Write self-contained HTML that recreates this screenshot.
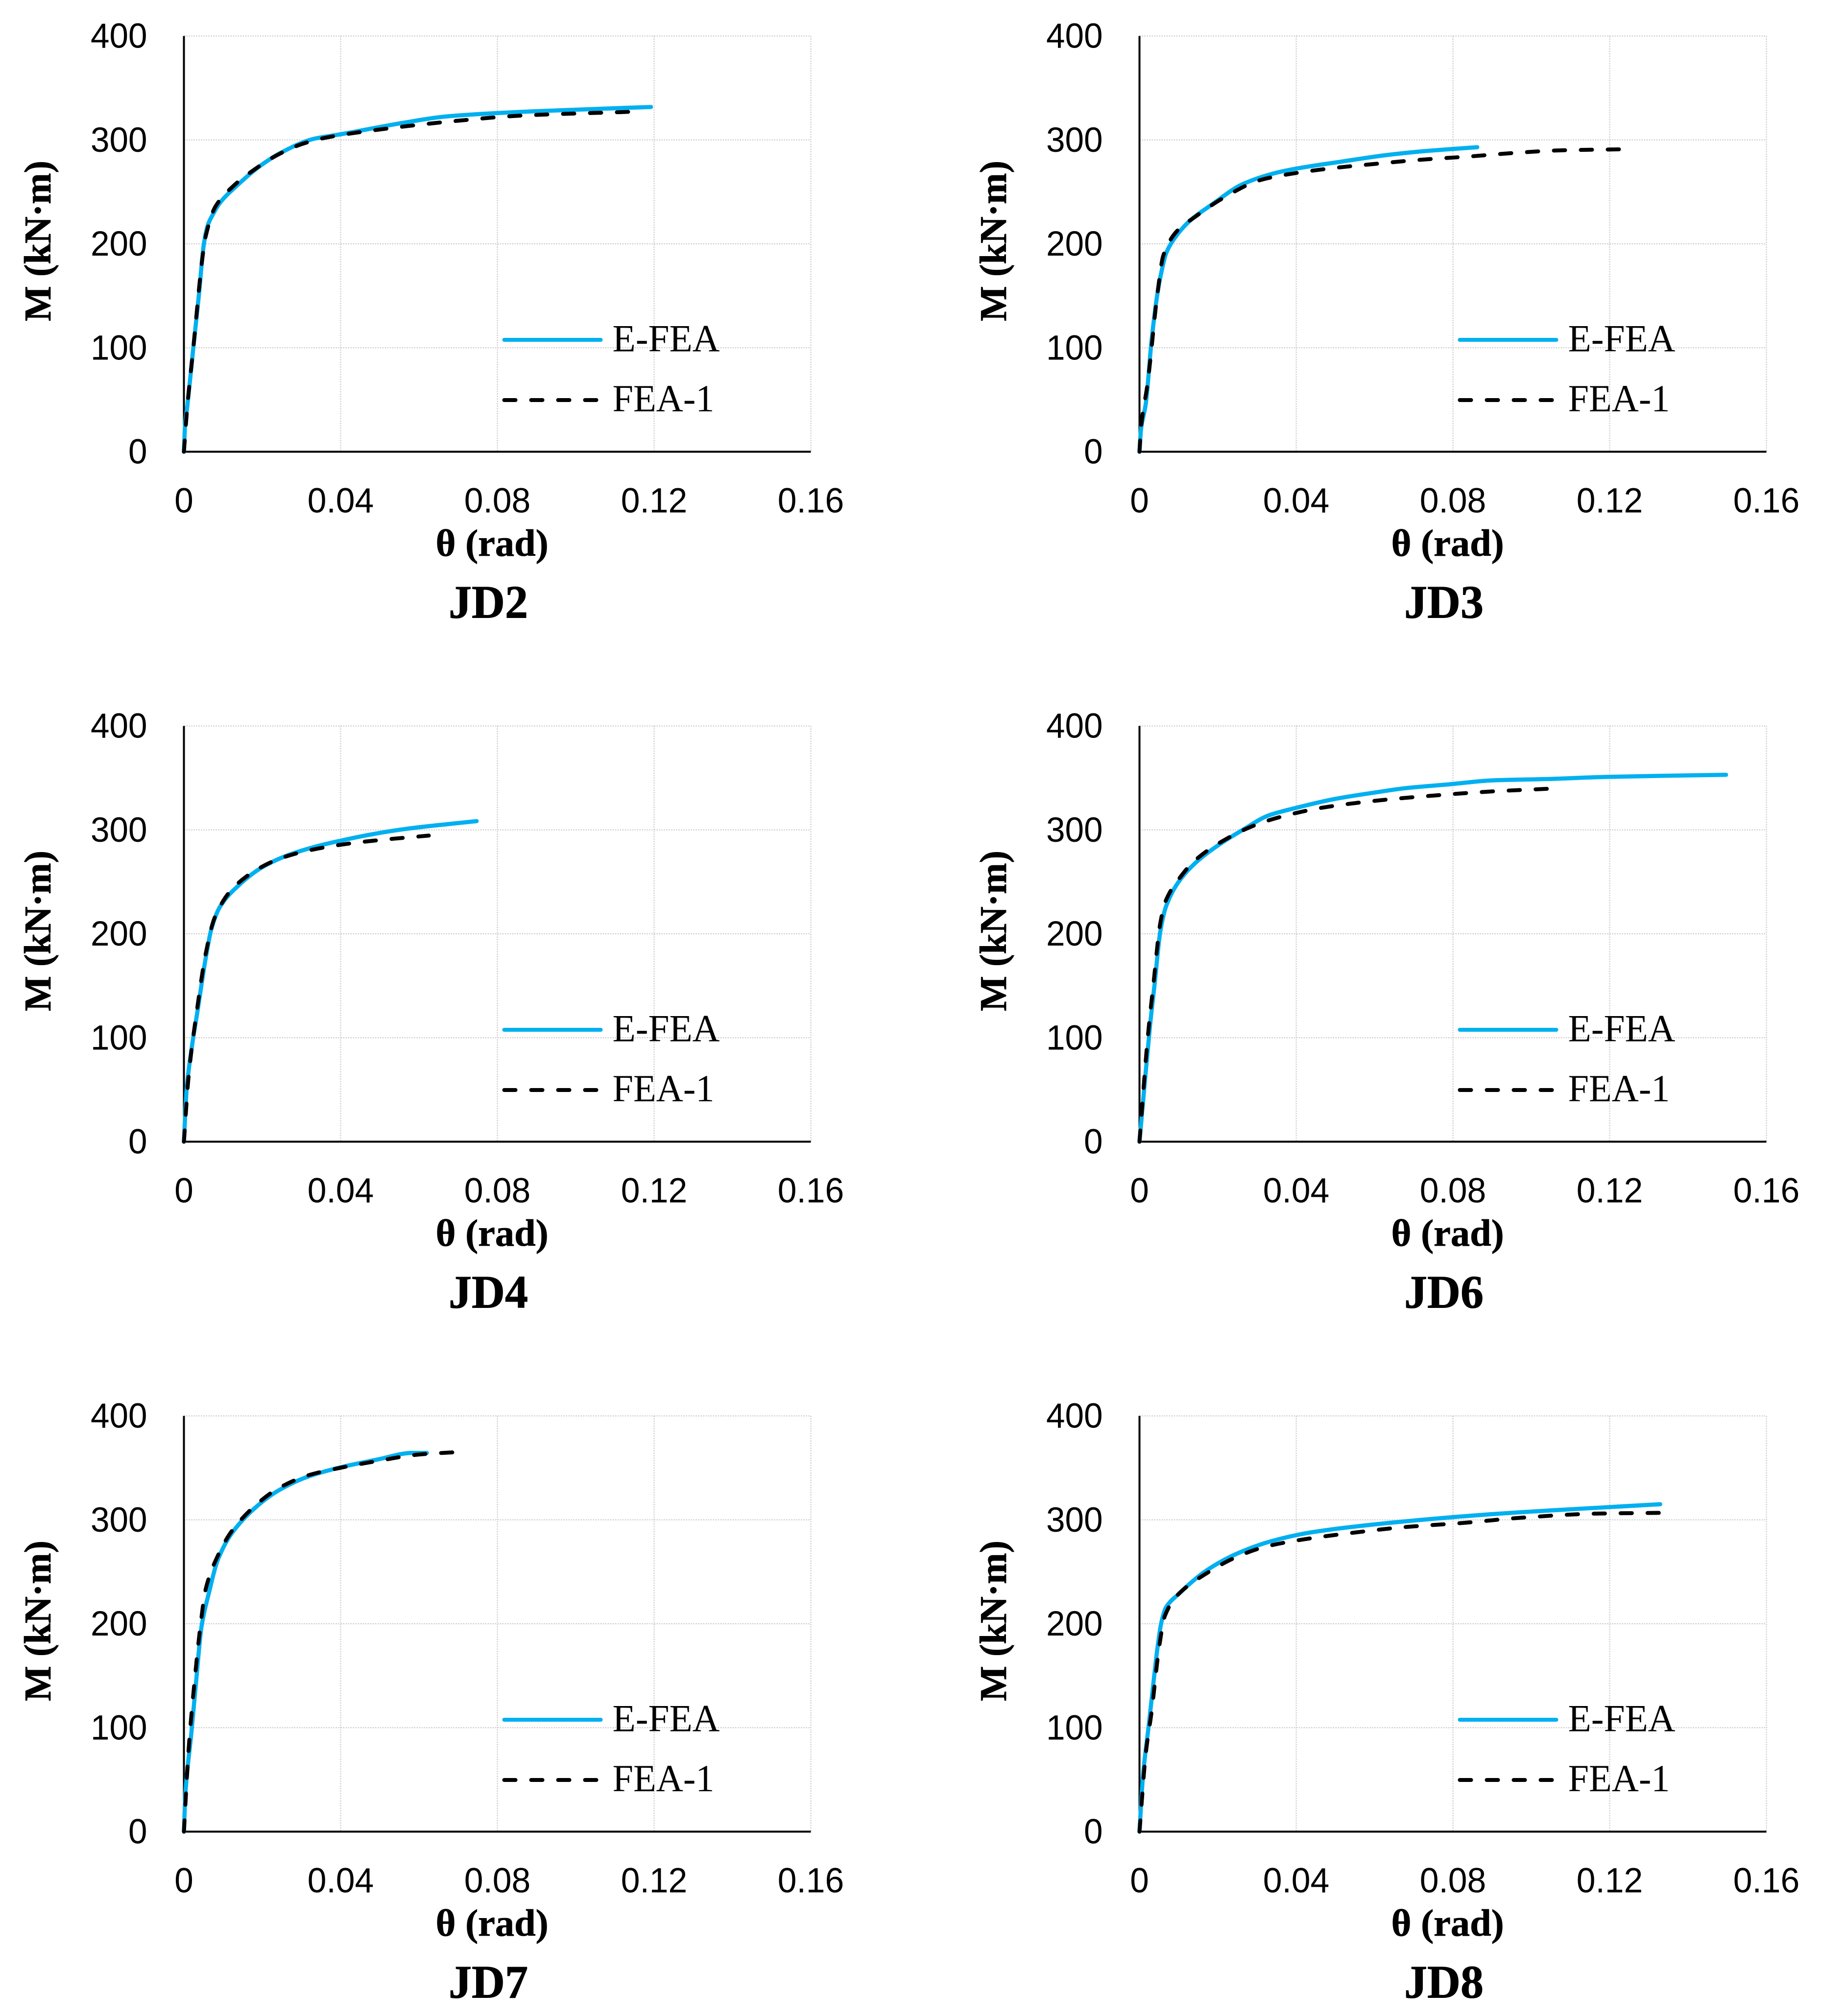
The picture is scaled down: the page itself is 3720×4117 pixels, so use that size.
<!DOCTYPE html>
<html lang="en">
<head>
<meta charset="utf-8">
<title>Moment-rotation curves JD2 to JD8</title>
<style>
html,body{margin:0;padding:0;background:#fff;}
svg{display:block;}
</style>
</head>
<body>
<svg id="figure" xmlns="http://www.w3.org/2000/svg" width="3720" height="4117" viewBox="0 0 3720 4117">
<rect width="3720" height="4117" fill="#ffffff"></rect>
</svg>
<script>
const xTickValues = [0, 0.04, 0.08, 0.12, 0.16];
const xTickLabels = ['0', '0.04', '0.08', '0.12', '0.16'];
const yTickValues = [0, 100, 200, 300, 400];
const yTickLabels = ['0', '100', '200', '300', '400'];
const seriesNames = ['E-FEA', 'FEA-1'];
const panelNames = ['JD2', 'JD3', 'JD4', 'JD6', 'JD7', 'JD8'];

const jd2EfeaTheta = [0, 0.0003, 0.0009, 0.0024, 0.0038, 0.0051, 0.0061, 0.0072, 0.0093, 0.0134, 0.0193, 0.0251, 0.0331, 0.0401, 0.0568, 0.0672, 0.0895, 0.1192];
const jd2EfeaMoment = [0, 26, 45, 100, 150, 200, 218, 227, 240, 255.6, 274.6, 288.4, 301, 305.5, 317, 322.7, 327.6, 331.7];
const jd2FeaTheta = [0, 0.0009, 0.0024, 0.0047, 0.0056, 0.008, 0.0126, 0.0178, 0.0236, 0.0301, 0.036, 0.0479, 0.0687, 0.0865, 0.1135];
const jd2FeaMoment = [0, 45, 100, 186, 208, 235.6, 255.6, 271, 285, 296, 302, 309, 318, 323.5, 327];

const jd3EfeaTheta = [0, 0.0004, 0.0016, 0.0031, 0.0046, 0.0056, 0.0068, 0.009, 0.0128, 0.0187, 0.0261, 0.0335, 0.0394, 0.0513, 0.0632, 0.072, 0.0862];
const jd3EfeaMoment = [0, 22, 46, 107.5, 152.6, 173, 191, 205.7, 222, 238.4, 257, 267, 272, 279, 285.5, 289, 293];
const jd3FeaTheta = [0, 0.0004, 0.0021, 0.0046, 0.0061, 0.0095, 0.0142, 0.0216, 0.0305, 0.038, 0.0483, 0.0602, 0.072, 0.0839, 0.0958, 0.1077, 0.1228];
const jd3FeaMoment = [0, 24, 66.7, 152.6, 189, 212, 226, 244.6, 261, 267, 272.4, 277, 281, 284, 287.5, 290, 291];

const jd4EfeaTheta = [0, 0.0007, 0.0022, 0.0034, 0.0056, 0.0071, 0.0093, 0.0138, 0.0197, 0.0257, 0.0331, 0.039, 0.0479, 0.0568, 0.0672, 0.0747];
const jd4EfeaMoment = [0, 50.7, 95.7, 124, 177.5, 206, 226.6, 246, 263.4, 274.4, 283.4, 288.8, 295.7, 301, 305.5, 308.4];
const jd4FeaTheta = [0, 0.0012, 0.0034, 0.0056, 0.0079, 0.0123, 0.0183, 0.0242, 0.0316, 0.0405, 0.0494, 0.0625];
const jd4FeaMoment = [0, 63, 128.4, 181.6, 216, 243, 261, 272, 280, 286, 290, 294.5];

const jd6EfeaTheta = [0, 0.0012, 0.0027, 0.0039, 0.0053, 0.0068, 0.0098, 0.0142, 0.0202, 0.0268, 0.0328, 0.0387, 0.0498, 0.0602, 0.0676, 0.0795, 0.0899, 0.1047, 0.1195, 0.1497];
const jd6EfeaMoment = [0, 50.7, 112, 153, 202, 226.6, 249, 268, 285.5, 301, 313.7, 320, 329.7, 336, 340, 344, 347.6, 349, 351, 353];
const jd6FeaTheta = [0, 0.0006, 0.0021, 0.0036, 0.0053, 0.0068, 0.0105, 0.0142, 0.0202, 0.0291, 0.0365, 0.0469, 0.0602, 0.075, 0.0899, 0.104];
const jd6FeaMoment = [0, 30, 99.8, 153, 210, 232.7, 255, 270.7, 287, 304, 313, 321.5, 328, 333, 337, 339.5];

const jd7EfeaTheta = [0, 0.0004, 0.0019, 0.0031, 0.0045, 0.0064, 0.0086, 0.0123, 0.0183, 0.0242, 0.0316, 0.0405, 0.0494, 0.0583, 0.062];
const jd7EfeaMoment = [0, 38, 95, 144, 197.5, 230, 261, 287.5, 312, 328.4, 341.5, 351, 358, 364.4, 364.4];
const jd7FeaTheta = [0, 0.0012, 0.0027, 0.0042, 0.0056, 0.0086, 0.0123, 0.0183, 0.0242, 0.0316, 0.0405, 0.0494, 0.0598, 0.069];
const jd7FeaMoment = [0, 79, 144, 197.5, 234, 265, 289.6, 314, 330.5, 342.7, 350.5, 356.6, 362.8, 365];

const jd8EfeaTheta = [0, 0.0009, 0.0024, 0.0036, 0.0046, 0.0056, 0.0068, 0.0098, 0.0172, 0.0246, 0.0335, 0.0439, 0.0602, 0.075, 0.0899, 0.1047, 0.1329];
const jd8EfeaMoment = [0, 54, 103.5, 144.4, 177, 201.6, 216, 228, 251.5, 267, 279.3, 288, 295.7, 301, 305.5, 309, 315];
const jd8FeaTheta = [0, 0.0016, 0.0031, 0.005, 0.0065, 0.0098, 0.0172, 0.0246, 0.032, 0.0409, 0.0543, 0.0676, 0.0825, 0.0973, 0.1166, 0.1329];
const jd8FeaMoment = [0, 74.8, 115.7, 177, 207.8, 228, 248.7, 264, 274, 280.6, 287.5, 293, 297, 302, 306, 306.7];

const efeaThetaSets = [jd2EfeaTheta, jd3EfeaTheta, jd4EfeaTheta, jd6EfeaTheta, jd7EfeaTheta, jd8EfeaTheta];
const efeaMomentSets = [jd2EfeaMoment, jd3EfeaMoment, jd4EfeaMoment, jd6EfeaMoment, jd7EfeaMoment, jd8EfeaMoment];
const feaThetaSets = [jd2FeaTheta, jd3FeaTheta, jd4FeaTheta, jd6FeaTheta, jd7FeaTheta, jd8FeaTheta];
const feaMomentSets = [jd2FeaMoment, jd3FeaMoment, jd4FeaMoment, jd6FeaMoment, jd7FeaMoment, jd8FeaMoment];

const SVG_NS = 'http://www.w3.org/2000/svg';
const figure = document.getElementById('figure');
const X_MAX = 0.16;
const Y_MAX = 400;
const PLOT_W = 1280;
const PLOT_H = 849;
const GRID = '#c6c6c6';
const SANS = '"Liberation Sans", sans-serif';
const SERIF = '"Liberation Serif", serif';

function make(tag, attrs, parent) {
  const el = document.createElementNS(SVG_NS, tag);
  for (const k in attrs) el.setAttribute(k, attrs[k]);
  parent.appendChild(el);
  return el;
}
function tickWidth(label) {
  let w = 0;
  for (const c of label) w += (c === '.' ? 20 : 38.5);
  return w;
}
function smoothPath(thetas, moments, sx, sy) {
  const xs = thetas.map(sx);
  const ys = moments.map(sy);
  const n = xs.length;
  const slopes = [];
  for (let i = 0; i < n - 1; i++) slopes.push((ys[i + 1] - ys[i]) / (xs[i + 1] - xs[i]));
  const tangents = [slopes[0]];
  for (let i = 1; i < n - 1; i++) {
    const a = slopes[i - 1];
    const b = slopes[i];
    tangents.push(a * b <= 0 ? 0 : 2 * a * b / (a + b));
  }
  tangents.push(slopes[n - 2]);
  let d = 'M' + xs[0].toFixed(1) + ' ' + ys[0].toFixed(1);
  for (let i = 0; i < n - 1; i++) {
    const h = (xs[i + 1] - xs[i]) / 3;
    d += 'C' + (xs[i] + h).toFixed(1) + ' ' + (ys[i] + h * tangents[i]).toFixed(1) + ' ' +
         (xs[i + 1] - h).toFixed(1) + ' ' + (ys[i + 1] - h * tangents[i + 1]).toFixed(1) + ' ' +
         xs[i + 1].toFixed(1) + ' ' + ys[i + 1].toFixed(1);
  }
  return d;
}

panelNames.forEach((name, idx) => {
  const col = idx % 2;
  const row = Math.floor(idx / 2);
  const dx = col * 1951;
  const dy = row * 1409;
  const x0 = 375.5 + dx;
  const y0 = 922.5 + dy;
  const sx = v => x0 + v / X_MAX * PLOT_W;
  const sy = v => y0 - v / Y_MAX * PLOT_H;
  const key = name.toLowerCase();

  const g = make('g', {}, figure);
  
  

  yTickValues.forEach((v, i) => {
    if (v > 0) {
      const line = make('line', {x1: x0, x2: x0 + PLOT_W, y1: sy(v), y2: sy(v), stroke: GRID, 'stroke-width': 2, 'stroke-dasharray': '2.5 2.5'}, g);
      
      
    }
    const label = make('text', {x: x0 - 75, y: sy(v) + 24, 'text-anchor': 'end', 'font-family': SANS, 'font-size': 71, fill: '#000', textLength: tickWidth(yTickLabels[i]), lengthAdjust: 'spacingAndGlyphs'}, g);
    label.textContent = yTickLabels[i];
    
    
  });

  xTickValues.forEach((v, i) => {
    if (v > 0) {
      const line = make('line', {x1: sx(v), x2: sx(v), y1: sy(Y_MAX), y2: y0, stroke: GRID, 'stroke-width': 2, 'stroke-dasharray': '2.5 2.5'}, g);
      
      
    }
    const label = make('text', {x: sx(v), y: y0 + 124, 'text-anchor': 'middle', 'font-family': SANS, 'font-size': 71, fill: '#000', textLength: tickWidth(xTickLabels[i]), lengthAdjust: 'spacingAndGlyphs'}, g);
    label.textContent = xTickLabels[i];
    
    
  });

  const yAxis = make('line', {x1: x0, x2: x0, y1: sy(Y_MAX), y2: y0 + 2, stroke: '#000', 'stroke-width': 4}, g);
  
  
  const xAxis = make('line', {x1: x0 - 2, x2: x0 + PLOT_W, y1: y0, y2: y0, stroke: '#000', 'stroke-width': 4}, g);
  
  

  const efea = make('path', {d: smoothPath(efeaThetaSets[idx], efeaMomentSets[idx], sx, sy), fill: 'none', stroke: '#00b0f0', 'stroke-width': 8.5, 'stroke-linejoin': 'round', 'stroke-linecap': 'round'}, g);
  
  
  const fea = make('path', {d: smoothPath(feaThetaSets[idx], feaMomentSets[idx], sx, sy), fill: 'none', stroke: '#000', 'stroke-width': 8, 'stroke-linejoin': 'round', 'stroke-linecap': 'round', 'stroke-dasharray': '23 32'}, g);
  
  

  const legendX1 = x0 + 654;
  const solid = make('line', {x1: legendX1, x2: legendX1 + 197, y1: y0 - 228.5, y2: y0 - 228.5, stroke: '#00b0f0', 'stroke-width': 8, 'stroke-linecap': 'round'}, g);
  
  
  const dashed = make('line', {x1: legendX1, x2: legendX1 + 188, y1: y0 - 105.5, y2: y0 - 105.5, stroke: '#000', 'stroke-width': 8, 'stroke-linecap': 'round', 'stroke-dasharray': '23 32'}, g);
  
  
  const legendA = make('text', {x: x0 + 875, y: y0 - 205, 'font-family': SERIF, 'font-size': 78, fill: '#000', textLength: 219, lengthAdjust: 'spacingAndGlyphs'}, g);
  legendA.textContent = seriesNames[0];
  
  
  const legendB = make('text', {x: x0 + 875, y: y0 - 82.5, 'font-family': SERIF, 'font-size': 78, fill: '#000', textLength: 208, lengthAdjust: 'spacingAndGlyphs'}, g);
  legendB.textContent = seriesNames[1];
  
  

  const yTitle = make('text', {transform: 'translate(' + (103 + dx) + ',' + (492 + dy) + ') rotate(-90)', 'text-anchor': 'middle', 'font-family': SERIF, 'font-weight': 'bold', 'font-size': 77, fill: '#000', stroke: '#000', 'stroke-width': 0.8, textLength: 328, lengthAdjust: 'spacingAndGlyphs'}, g);
  yTitle.textContent = 'M (kN\u00B7m)';
  
  
  const xTitle = make('text', {x: 1004.7 + dx, y: 1135 + dy, 'text-anchor': 'middle', 'font-family': SERIF, 'font-weight': 'bold', 'font-size': 77, fill: '#000', stroke: '#000', 'stroke-width': 0.8, textLength: 230, lengthAdjust: 'spacingAndGlyphs'}, g);
  xTitle.textContent = '\u03B8 (rad)';
  
  
  const title = make('text', {x: 997 + dx, y: 1261.7 + dy, 'text-anchor': 'middle', 'font-family': SERIF, 'font-weight': 'bold', 'font-size': 95, fill: '#000', stroke: '#000', 'stroke-width': 1, textLength: 162, lengthAdjust: 'spacingAndGlyphs'}, g);
  title.textContent = name;
  
  
});
</script>
</body>
</html>
